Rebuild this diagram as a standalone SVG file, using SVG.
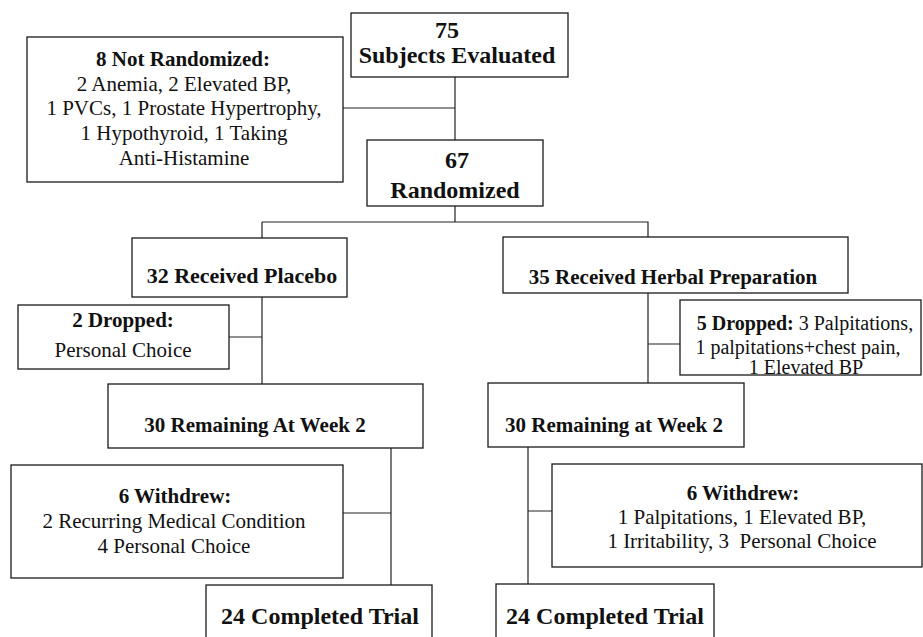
<svg xmlns="http://www.w3.org/2000/svg" width="923" height="637" viewBox="0 0 923 637">
<style>
.box{fill:#fff;stroke:#1a1a1a;stroke-width:1.3}
.ln{fill:none;stroke:#222;stroke-width:1.2}
text{font-family:"Liberation Serif","Times New Roman",serif;fill:#111;text-anchor:middle}
.b{font-weight:bold}
.h24{font-size:24px;font-weight:bold}
.h22{font-size:22px;font-weight:bold}
.t21{font-size:21px}
.t20{font-size:20px}
</style>
<rect width="923" height="637" fill="#fff"/>
<g id="connectors">
<path class="ln" d="M455,77 V140 M343,108 H455 M455,206 V222 M262,222 H648 V237 M262,222 V238"/>
<path class="ln" d="M262,297 V384 M229,337 H262"/>
<path class="ln" d="M648,293 V383 M648,344 H680"/>
<path class="ln" d="M391,448 V585 M343,513 H391"/>
<path class="ln" d="M528,447 V584 M528,511 H552"/>
</g>
<g id="n75">
<rect class="box" x="351" y="13" width="217" height="64"/>
<text class="h24" x="447" y="38">75</text>
<text class="h24" x="457" y="63">Subjects Evaluated</text>
</g>
<g id="notrand">
<rect class="box" x="27" y="37" width="316" height="145"/>
<text class="t21 b" x="183" y="66">8 Not Randomized:</text>
<text class="t21" x="184" y="91">2 Anemia, 2 Elevated BP,</text>
<text class="t21" x="184" y="115">1 PVCs, 1 Prostate Hypertrophy,</text>
<text class="t21" x="184" y="140">1 Hypothyroid, 1 Taking</text>
<text class="t21" x="184" y="165">Anti-Histamine</text>
</g>
<g id="n67">
<rect class="box" x="367" y="140" width="176" height="66"/>
<text class="h24" x="457" y="168">67</text>
<text class="h24" x="455" y="198">Randomized</text>
</g>
<g id="placebo">
<rect class="box" x="132" y="238" width="215" height="59"/>
<text class="h22" x="242" y="283">32 Received Placebo</text>
</g>
<g id="herbal">
<rect class="box" x="503" y="237" width="345" height="56"/>
<text class="t21 b" x="673" y="284">35 Received Herbal Preparation</text>
</g>
<g id="drop2">
<rect class="box" x="18" y="305" width="211" height="64"/>
<text class="t21 b" x="123" y="327">2 Dropped:</text>
<text class="t21" x="123" y="357">Personal Choice</text>
</g>
<g id="drop5">
<rect class="box" x="680" y="300" width="241" height="75"/>
<text class="t20" x="805" y="330"><tspan class="b">5 Dropped:</tspan>  3 Palpitations,</text>
<text class="t20" x="798" y="354">1 palpitations+chest pain,</text>
<text class="t20" x="806" y="374">1 Elevated BP</text>
</g>
<g id="rem-left">
<rect class="box" x="108" y="384" width="315" height="64"/>
<text class="t21 b" x="255" y="432">30 Remaining At Week 2</text>
</g>
<g id="rem-right">
<rect class="box" x="488" y="383" width="256" height="64"/>
<text class="t21 b" x="614" y="432">30 Remaining at Week 2</text>
</g>
<g id="wd-left">
<rect class="box" x="11" y="465" width="332" height="113"/>
<text class="t21 b" x="175" y="503">6 Withdrew:</text>
<text class="t21" x="174" y="528">2 Recurring Medical Condition</text>
<text class="t21" x="174" y="553">4 Personal Choice</text>
</g>
<g id="wd-right">
<rect class="box" x="552" y="464" width="370" height="103"/>
<text class="t21 b" x="743" y="500">6 Withdrew:</text>
<text class="t21" x="742" y="524">1 Palpitations, 1 Elevated BP,</text>
<text class="t21" x="742" y="548" xml:space="preserve">1 Irritability, 3  Personal Choice</text>
</g>
<g id="comp-left">
<rect class="box" x="206" y="585" width="226" height="70"/>
<text class="h24" x="320" y="624">24 Completed Trial</text>
</g>
<g id="comp-right">
<rect class="box" x="496" y="584" width="218" height="70"/>
<text class="h24" x="605" y="624">24 Completed Trial</text>
</g>
</svg>
